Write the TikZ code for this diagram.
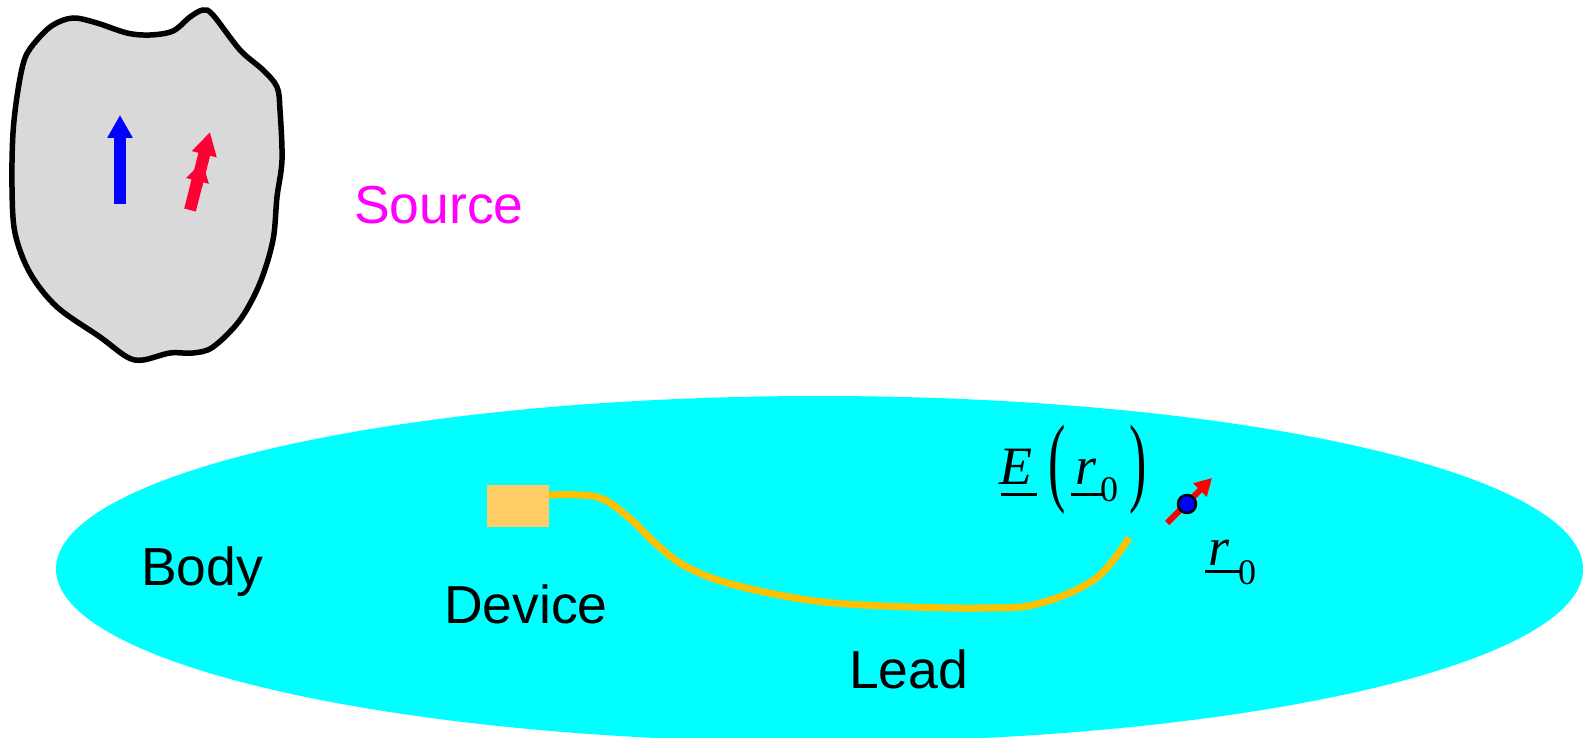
\documentclass[tikz,border=0pt]{standalone}
\usepackage{fontspec}
\setmainfont{Liberation Sans}
\newfontfamily\tms{Liberation Serif}
\usepackage{graphicx}
\usetikzlibrary{arrows.meta}

\definecolor{bodycyan}{RGB}{0,255,255}
\definecolor{blobgray}{RGB}{217,217,217}
\definecolor{srcred}{RGB}{255,0,51}
\definecolor{leadcol}{RGB}{255,192,0}
\definecolor{devcol}{RGB}{255,204,102}
\definecolor{srcmag}{RGB}{255,0,255}

\tikzset{
  lbl/.style={font=\fontsize{53.5}{60}\selectfont, inner sep=0pt, anchor=base west},
  mathbig/.style={font=\tms\fontsize{54}{60}\selectfont, inner sep=0pt, anchor=base west},
  mathsub/.style={font=\tms\fontsize{36}{40}\selectfont, inner sep=0pt, anchor=base west},
  paren/.style={font=\tms\fontsize{52}{60}\selectfont, inner sep=0pt},
  uline/.style={line width=3pt},
  dipole/.style={line width=12pt, -{Triangle[width=24pt,length=23pt]}},
  lead/.style={leadcol, line width=7pt, line cap=butt},
}

\begin{document}
\begin{tikzpicture}[x=1pt, y=-1pt]
\useasboundingbox (0,0) rectangle (1583,738);
\clip (0,0) rectangle (1583,738);

% body
\fill[bodycyan] (819.5,569) ellipse [x radius=763.5, y radius=173];

% source region
\filldraw[fill=blobgray, draw=black, line width=5.5pt]
  plot[smooth cycle, tension=0.55] coordinates {
    (25,58) (37,40) (53,25) (73,18) (97,23) (127,33) (150,35) (173,31)
    (190,17) (203,10) (213,15) (240,50) (263,70) (277,87) (280,110)
    (282,160) (277,197) (273,240) (260,283) (240,320) (213,347) (193,353)
    (170,353) (143,360) (127,357) (100,337) (57,307) (30,273) (15,233)
    (12,187) (13,133) (18,90)};

% dipoles in the source
\coordinate (bt) at (120,204);
\coordinate (bh) at (120,115);
\draw[blue, dipole] (bt) -- (bh);

\coordinate (rt1) at (190,210);
\coordinate (rh1) at (202.4,161.5);
\coordinate (rt2) at (196.2,185.8);
\coordinate (rh2) at (210,132);
\draw[srcred, line width=12pt, -{Triangle[width=22pt,length=20pt]}] (rt1) -- (rh1);
\draw[srcred, dipole] (rt2) -- (rh2);

\node[lbl, text=srcmag] (source) at (354,224) {Source};

% device and lead
\node[rectangle, fill=devcol, minimum width=62pt, minimum height=42pt, inner sep=0pt] (device) at (518,506) {};
\coordinate (leadstart) at (549,495);
\coordinate (leadend) at (1129,538);
\draw[lead] plot[smooth, tension=0.6] coordinates {
  (leadstart) (597,497) (628,517) (655,543) (685,566) (731,584) (808,600)
  (884,606) (980,608) (1037,604) (1095,579) (leadend)};

\node[lbl] (body) at (141,585) {Body};
\node[lbl] (devlbl) at (444,623) {Device};
\node[lbl] (leadlbl) at (849,688) {Lead};

% field point with dipole
\coordinate (ft) at (1167,523);
\coordinate (fh) at (1212,478);
\draw[red, line width=6pt, -{Triangle[width=18pt,length=17pt]}] (ft) -- (fh);
\node[circle, fill=blue, draw=black, line width=2.5pt, minimum size=18pt, inner sep=0pt] (pt) at (1187,504) {};

% E(r0)
\node[mathbig] (E) at (999,484) {\itshape E};
\draw[uline] (1001,494) -- (1037,494);
\node[paren] (lp) at (1057,470) {\scalebox{1}[1.9]{(}};
\node[mathbig] (r1) at (1075,484) {\itshape r};
\draw[uline] (1071,494) -- (1103,494);
\node[mathsub] (z1) at (1100,501) {0};
\node[paren] (rp) at (1138,470) {\scalebox{1}[1.9]{)}};

% r0
\node[mathbig] (r2) at (1208,565) {\itshape r};
\draw[uline] (1205,571) -- (1240,571);
\node[mathsub] (z2) at (1238,584) {0};
\end{tikzpicture}
\end{document}
